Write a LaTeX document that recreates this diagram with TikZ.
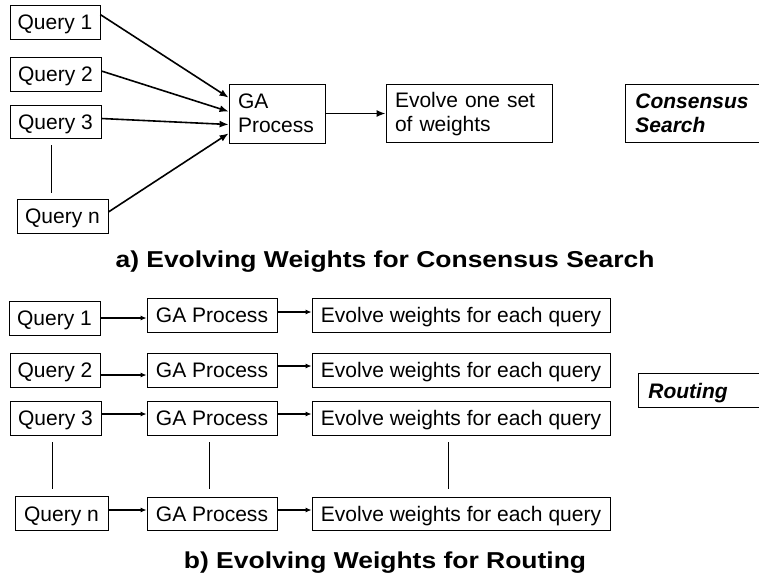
\documentclass[tikz,border=0pt]{standalone}
\usepackage{fontspec}
\setmainfont{Liberation Sans}
\usetikzlibrary{arrows.meta}
\begin{document}
\begin{tikzpicture}[x=1pt,y=-1pt,
  box/.style={draw, line width=0.8pt, inner sep=0pt, font=\fontsize{21}{24}\selectfont,
    text height=15.5pt, text depth=0pt},
  leftbox/.style={draw, line width=0.8pt, inner ysep=0pt, inner xsep=9pt, align=left,
    font=\fontsize{21}{24}\selectfont},
  tag/.style={draw, line width=0.8pt, inner ysep=0pt, inner xsep=10pt, anchor=north west,
    font=\fontsize{21}{24}\selectfont\bfseries\itshape, align=left, text width=150pt},
  heavyarrow/.style={line width=1.6pt, -{Latex[length=9pt,width=7pt]}},
  lightarrow/.style={line width=1.3pt, -{Latex[length=6pt,width=5pt]}},
  joiner/.style={line width=0.8pt},
  caption/.style={font=\fontsize{23}{28}\selectfont\bfseries, anchor=base, inner sep=0pt}
]
\useasboundingbox (0,0) rectangle (759,576);
\clip (0,0) rectangle (759,576);

% ---- a) consensus search ----
\node[box, minimum width=90pt, minimum height=34pt] (q1) at (55,22) {Query 1};
\node[box, minimum width=91pt, minimum height=34pt] (q2) at (55.5,74) {Query 2};
\node[box, minimum width=91pt, minimum height=33pt] (q3) at (55.5,121.5) {Query 3};
\node[box, minimum width=91pt, minimum height=34pt] (qn) at (62.5,216) {Query n};
\node[leftbox, text width=78pt, minimum height=59pt] (ga) at (277,113.5) {GA\\Process};
\node[leftbox, text width=148pt, minimum height=58pt] (ev) at (469,113) {\strut Evolve one set\\of weights};
\node[tag, minimum height=58pt] (cs) at (625,84) {Consensus\\Search};

\draw[heavyarrow] ([yshift=-10pt]q1.north east) -- ([yshift=-14pt]ga.north west);
\draw[heavyarrow] ([yshift=3pt]q2.east) -- ([yshift=2pt]ga.west);
\draw[heavyarrow] ([yshift=3pt]q3.east) -- ([yshift=-11pt]ga.west);
\draw[heavyarrow] ([yshift=4pt]qn.east) -- ([yshift=10pt]ga.south west);
\draw[heavyarrow] (ga.east) -- (ga.east -| ev.west);

\coordinate (da1) at (51,145);
\coordinate (da2) at (51,193);
\draw[joiner] (da1) -- (da2);

\node[caption] (ta) at (385,267) {\scalebox{1.15}[1]{a) Evolving Weights for Consensus Search}};

% ---- b) routing ----
\foreach \r/\y/\qx/\qw/\qt in {1/318/54.5/91/Query 1, 2/370/55/90/Query 2, 3/418/55.5/91/Query 3, n/513.5/61.5/93/Query n}{
  \node[box, minimum width=\qw pt, minimum height=34pt] (rq\r) at (\qx,\y) {\qt};
}
\node[box, minimum width=130pt, minimum height=34pt] (rg1) at (212,315) {GA Process};
\node[box, minimum width=130pt, minimum height=34pt] (rg2) at (212,370) {GA Process};
\node[box, minimum width=130pt, minimum height=34pt] (rg3) at (212,418) {GA Process};
\node[box, minimum width=130pt, minimum height=33pt] (rgn) at (212,513.5) {GA Process};
\node[box, minimum width=298pt, minimum height=34pt] (re1) at (461,315) {Evolve weights for each query};
\node[box, minimum width=298pt, minimum height=34pt] (re2) at (461,370) {Evolve weights for each query};
\node[box, minimum width=298pt, minimum height=34pt] (re3) at (461,418) {Evolve weights for each query};
\node[box, minimum width=298pt, minimum height=33pt] (ren) at (461,513.5) {Evolve weights for each query};
\node[tag, minimum height=34pt, text height=15.5pt, text depth=0pt] (rt) at (638,373) {Routing};

\draw[lightarrow] (rq1.east) -- (rq1.east -| rg1.west);
\draw[lightarrow] ([yshift=3pt]rg1.east) -- ([yshift=3pt]rg1.east -| re1.west);
\draw[lightarrow] ([yshift=-5pt]rq2.east) -- ([yshift=-5pt]rq2.east -| rg2.west);
\draw[lightarrow] ([yshift=4pt]rg2.east) -- ([yshift=4pt]rg2.east -| re2.west);
\draw[lightarrow] ([yshift=4pt]rq3.east) -- ([yshift=4pt]rq3.east -| rg3.west);
\draw[lightarrow] ([yshift=4pt]rg3.east) -- ([yshift=4pt]rg3.east -| re3.west);
\draw[lightarrow] ([yshift=3.5pt]rqn.east) -- ([yshift=3.5pt]rqn.east -| rgn.west);
\draw[lightarrow] ([yshift=3.5pt]rgn.east) -- ([yshift=3.5pt]rgn.east -| ren.west);

\coordinate (db1) at (52,442);  \coordinate (db2) at (52,489);
\coordinate (db3) at (209,442); \coordinate (db4) at (209,489);
\coordinate (db5) at (448,442); \coordinate (db6) at (448,489);
\draw[joiner] (db1) -- (db2);
\draw[joiner] (db3) -- (db4);
\draw[joiner] (db5) -- (db6);

\node[caption] (tb) at (385,568) {\scalebox{1.15}[1]{b) Evolving Weights for Routing}};
\end{tikzpicture}
\end{document}
